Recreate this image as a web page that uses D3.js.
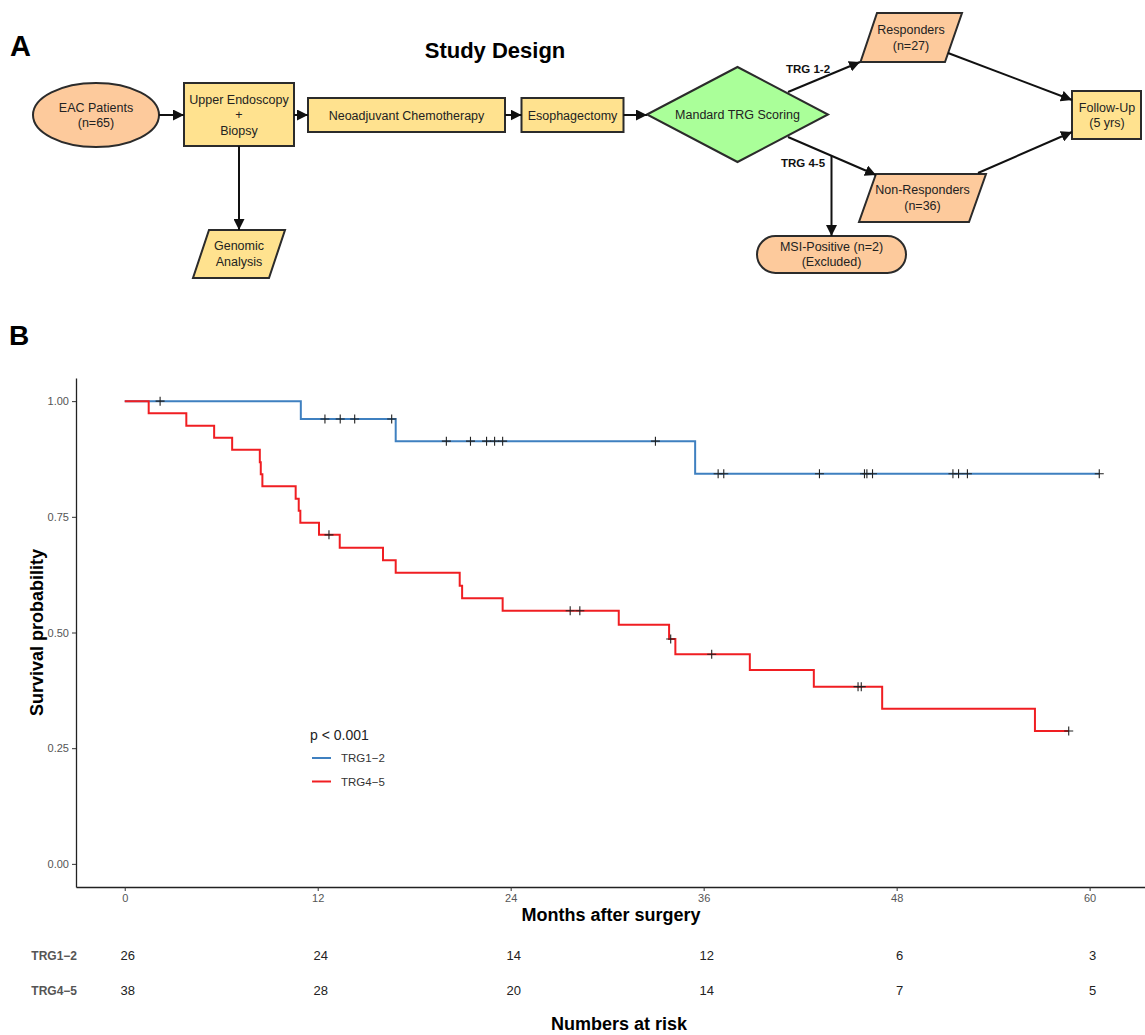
<!DOCTYPE html>
<html>
<head>
<meta charset="utf-8">
<script src="https://cdn.jsdelivr.net/npm/d3@7"></script>
<style>
  body { margin: 0; background: #fff; }
  svg { display: block; font-family: "Liberation Sans", Arial, sans-serif; }
</style>
</head>
<body>
<svg id="fig" width="1145" height="1035"></svg>
<script>
// ---- panel B data (months after surgery / survival probability) ----
var groups = ["TRG1\u22122", "TRG4\u22125"];
var xTicks = [0, 12, 24, 36, 48, 60];
var yTicks = [0, 0.25, 0.5, 0.75, 1];

var trg12Time = [0, 10.95, 16.85, 35.47];
var trg12Surv = [1, 0.9615, 0.9135, 0.843];
var trg12End = 60.6;
var trg12Censor = [2.2, 12.45, 13.4, 14.3, 16.6, 20.0, 21.5, 22.5, 23.0, 23.5,
                   33.0, 36.9, 37.25, 43.2, 46.0, 46.15, 46.5, 51.5, 51.85, 52.4, 60.6];

var trg45Time = [0, 1.49, 3.83, 5.56, 6.68, 8.40, 8.46, 8.56, 10.63, 10.82, 10.92, 12.08,
                 13.37, 16.06, 16.85, 20.83, 20.98, 23.5, 30.72, 33.85, 34.24, 38.87,
                 42.85, 47.1, 56.6];
var trg45Surv = [1, 0.974, 0.947, 0.921, 0.895, 0.868, 0.842, 0.816, 0.789, 0.763, 0.737, 0.711,
                 0.683, 0.656, 0.629, 0.601, 0.574, 0.547, 0.517, 0.486, 0.453, 0.419,
                 0.383, 0.335, 0.287];
var trg45End = 58.7;
var trg45Censor = [12.7, 27.7, 28.3, 33.95, 36.5, 45.6, 45.8, 58.7];

var riskTrg12 = [26, 24, 14, 12, 6, 3];
var riskTrg45 = [38, 28, 20, 14, 7, 5];
var pText = "p < 0.001";

// ---- panel A labels ----
var flowText = {
  start: ["EAC Patients", "(n=65)"],
  endo: ["Upper Endoscopy", "+", "Biopsy"],
  chemo: ["Neoadjuvant Chemotherapy"],
  surgery: ["Esophagectomy"],
  trg: ["Mandard TRG Scoring"],
  resp: ["Responders", "(n=27)"],
  nonresp: ["Non-Responders", "(n=36)"],
  follow: ["Follow-Up", "(5 yrs)"],
  msi: ["MSI-Positive (n=2)", "(Excluded)"],
  genomic: ["Genomic", "Analysis"]
};

var svg = d3.select("#fig");
var yellow = "#ffe28f", peach = "#fdca9c", green = "#aaff99", edge = "#2b2b2b";

svg.append("defs").append("marker")
  .attr("id", "arr")
  .attr("markerUnits", "userSpaceOnUse")
  .attr("viewBox", "0 0 10 10")
  .attr("refX", 10).attr("refY", 5)
  .attr("markerWidth", 11).attr("markerHeight", 11)
  .attr("orient", "auto")
  .append("path").attr("d", "M0,0L10,5L0,10Z").attr("fill", "#111");

// ================= panel A =================
var A = svg.append("g");
A.append("text").attr("x", 10).attr("y", 56).attr("font-size", 29).attr("font-weight", "bold").text("A");
A.append("text").attr("x", 495).attr("y", 58).attr("text-anchor", "middle")
  .attr("font-size", 22).attr("font-weight", "bold").text("Study Design");

function label(lines, cx, cy, step) {
  var t = A.append("text").attr("text-anchor", "middle").attr("font-size", 12.5).attr("fill", "#222");
  var off = (lines.length - 1) / 2;
  lines.forEach(function (s, i) {
    t.append("tspan").attr("x", cx).attr("y", cy + (i - off) * step + 4.5).text(s);
  });
}
function box(x, y, w, h, fill) {
  A.append("rect").attr("x", x).attr("y", y).attr("width", w).attr("height", h)
    .attr("fill", fill).attr("stroke", edge).attr("stroke-width", 2);
}
function poly(pts, fill) {
  A.append("polygon").attr("points", pts.map(function (p) { return p.join(","); }).join(" "))
    .attr("fill", fill).attr("stroke", edge).attr("stroke-width", 2);
}
function arrow(x1, y1, x2, y2) {
  A.append("line").attr("x1", x1).attr("y1", y1).attr("x2", x2).attr("y2", y2)
    .attr("stroke", "#111").attr("stroke-width", 2).attr("marker-end", "url(#arr)");
}

A.append("ellipse").attr("cx", 96).attr("cy", 115).attr("rx", 63).attr("ry", 32)
  .attr("fill", peach).attr("stroke", edge).attr("stroke-width", 2);
label(flowText.start, 96, 114.5, 15);

box(184, 83, 110, 63, yellow);
label(flowText.endo, 239, 114.5, 15.5);

box(308, 98, 197, 34, yellow);
label(flowText.chemo, 406.5, 115, 15);

box(521.5, 98, 102, 34, yellow);
label(flowText.surgery, 572.5, 115, 15);

poly([[647, 114.5], [737.5, 67], [828, 114.5], [737.5, 162]], green);
label(flowText.trg, 737.5, 114.5, 15);

poly([[877, 13], [962, 13], [945, 62], [860.5, 62]], peach);
label(flowText.resp, 911, 37, 16);

poly([[876, 174], [986, 174], [969, 222], [859, 222]], peach);
label(flowText.nonresp, 922.5, 197, 16);

box(1072, 91, 69, 48, yellow);
label(flowText.follow, 1107, 114.5, 15);

A.append("rect").attr("x", 757).attr("y", 236).attr("width", 149).attr("height", 37)
  .attr("rx", 18.5).attr("ry", 18.5)
  .attr("fill", peach).attr("stroke", edge).attr("stroke-width", 2);
label(flowText.msi, 831.5, 253.5, 15);

poly([[209, 230], [285, 230], [269, 278], [193, 278]], yellow);
label(flowText.genomic, 239, 253.5, 15.5);

arrow(159, 115, 184, 115);
arrow(294, 115, 308, 115);
arrow(505, 115, 521.5, 115);
arrow(623.5, 115, 647, 115);
arrow(239, 146, 239, 230);
arrow(788, 92, 860, 62);
arrow(788, 137, 876, 175);
arrow(831.5, 156, 831.5, 236);
arrow(948, 53, 1072, 100);
arrow(978, 173, 1072, 132);

A.append("text").attr("x", 808).attr("y", 73).attr("text-anchor", "middle")
  .attr("font-size", 11.5).attr("font-weight", "bold").attr("fill", "#111").text("TRG 1-2");
A.append("text").attr("x", 803).attr("y", 167).attr("text-anchor", "middle")
  .attr("font-size", 11.5).attr("font-weight", "bold").attr("fill", "#111").text("TRG 4-5");

// ================= panel B =================
svg.append("text").attr("x", 9).attr("y", 345).attr("font-size", 28).attr("font-weight", "bold").text("B");

var x = d3.scaleLinear().domain([-3.03, 63.63]).range([76, 1148]);
var y = d3.scaleLinear().domain([-0.05, 1.05]).range([887, 378]);

var xAxis = svg.append("g").attr("transform", "translate(0," + y.range()[0] + ")")
  .call(d3.axisBottom(x).tickValues(xTicks).tickSize(4).tickSizeOuter(0));
var yAxis = svg.append("g").attr("transform", "translate(" + x.range()[0] + ",0)")
  .call(d3.axisLeft(y).tickValues(yTicks).tickFormat(d3.format(".2f")).tickSize(4).tickSizeOuter(0));
[xAxis, yAxis].forEach(function (g) {
  g.select(".domain").attr("stroke", "#222").attr("stroke-width", 1.3);
  g.selectAll(".tick line").attr("stroke", "#333");
  g.selectAll(".tick text").attr("fill", "#555").attr("font-size", 11)
    .attr("font-family", "Liberation Sans, Arial, sans-serif");
});

svg.append("text").attr("transform", "translate(43," + y(0.5) + ") rotate(-90)")
  .attr("text-anchor", "middle").attr("font-size", 18).attr("font-weight", "bold").text("Survival probability");
svg.append("text").attr("x", 611).attr("y", 921).attr("text-anchor", "middle")
  .attr("font-size", 18).attr("font-weight", "bold").text("Months after surgery");

var series = [
  { name: groups[0], color: "#3f80c0", time: trg12Time, surv: trg12Surv, end: trg12End, censor: trg12Censor },
  { name: groups[1], color: "#f01e22", time: trg45Time, surv: trg45Surv, end: trg45End, censor: trg45Censor }
];

var step = d3.line().x(function (d) { return x(d[0]); }).y(function (d) { return y(d[1]); })
  .curve(d3.curveStepAfter);

function survAt(s, t) {
  var i = d3.bisectRight(s.time, t) - 1;
  return s.surv[Math.max(i, 0)];
}

series.forEach(function (s) {
  var pts = s.time.map(function (t, i) { return [t, s.surv[i]]; });
  pts.push([s.end, s.surv[s.surv.length - 1]]);
  svg.append("path").attr("d", step(pts)).attr("fill", "none")
    .attr("stroke", s.color).attr("stroke-width", 2);
});

series.forEach(function (s) {
  svg.append("g").selectAll("path").data(s.censor).join("path")
    .attr("d", function (t) {
      var cx = x(t), cy = y(survAt(s, t)), p = d3.path();
      p.moveTo(cx - 4.5, cy); p.lineTo(cx + 4.5, cy);
      p.moveTo(cx, cy - 4.5); p.lineTo(cx, cy + 4.5);
      return p.toString();
    })
    .attr("stroke", "#222").attr("stroke-width", 1.1).attr("fill", "none");
});

// legend
svg.append("text").attr("x", 310).attr("y", 740).attr("font-size", 14).attr("fill", "#222").text(pText);
series.forEach(function (s, i) {
  var ly = 758 + i * 23.5;
  svg.append("line").attr("x1", 312).attr("x2", 331).attr("y1", ly).attr("y2", ly)
    .attr("stroke", s.color).attr("stroke-width", 2);
  svg.append("text").attr("x", 341).attr("y", ly + 4).attr("font-size", 11.5).attr("fill", "#333").text(s.name);
});

// numbers at risk
var riskRows = [riskTrg12, riskTrg45];
riskRows.forEach(function (row, r) {
  var ry = 960 + r * 35;
  svg.append("text").attr("x", 77).attr("y", ry).attr("text-anchor", "end")
    .attr("font-size", 12).attr("font-weight", "bold").attr("fill", "#555").text(groups[r]);
  svg.append("g").selectAll("text").data(row).join("text")
    .attr("x", function (d, i) { return x(xTicks[i]) + 3; })
    .attr("y", ry).attr("text-anchor", "middle").attr("font-size", 13).attr("fill", "#222")
    .text(function (d) { return d; });
});
svg.append("text").attr("x", 619).attr("y", 1030).attr("text-anchor", "middle")
  .attr("font-size", 18).attr("font-weight", "bold").text("Numbers at risk");
</script>
</body>
</html>
